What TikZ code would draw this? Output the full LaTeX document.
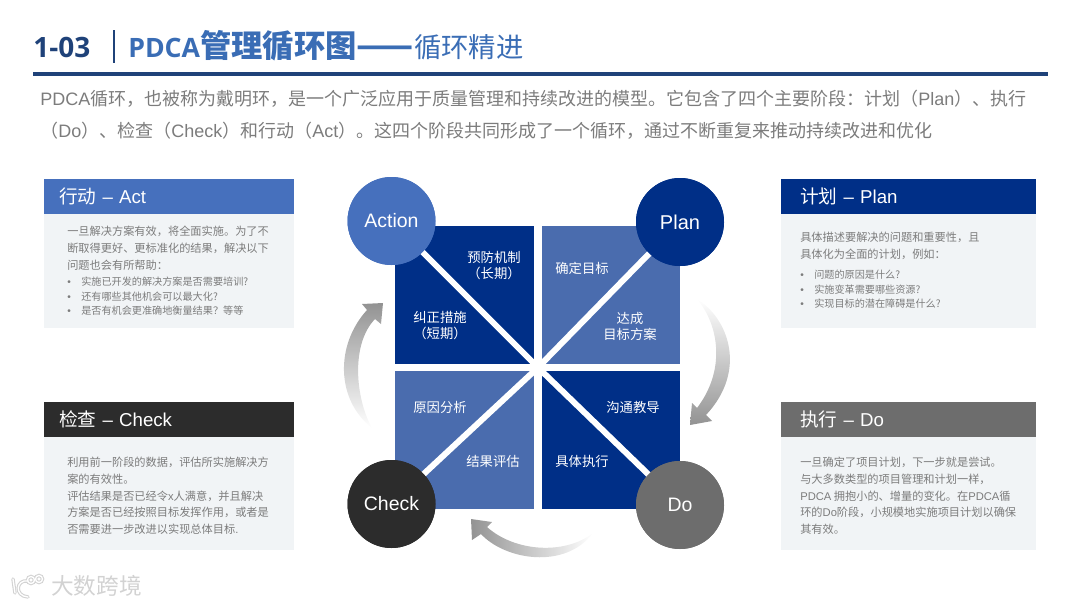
\documentclass[tikz,border=0pt]{standalone}
\usepackage{fontspec}
\usepackage{xcolor}
\setmainfont{Noto Sans CJK SC}
\newfontfamily\latinfont{Liberation Sans}
\newfontfamily\numberfont{Open Sans}
\usetikzlibrary{
    positioning,
    calc
}
\definecolor{BlueDeep}{HTML}{002F87}
\definecolor{BlueMid}{HTML}{4A6CAE}
\definecolor{BlueAct}{HTML}{4670BD}
\definecolor{BlueRule}{HTML}{1F4279}
\definecolor{BlueTitle}{HTML}{3A6DB5}
\definecolor{InkCheck}{HTML}{2C2C2C}
\definecolor{GreyDo}{HTML}{6D6D6D}
\definecolor{GreyText}{HTML}{7C7C7C}
\definecolor{PanelBack}{HTML}{F1F4F6}
\definecolor{MarkGrey}{HTML}{D2D2D2}
\newcommand{\lat}[1]{{\latinfont #1}}
\newcommand{\dotline}[1]{\makebox[10.5pt][l]{\lat{\textbullet}}#1}
\tikzset{
    headbar/.style={
        anchor=north west,
        minimum height=26.25pt,
        inner sep=0pt,
        outer sep=0pt,
        text=white,
        align=left,
        font=\fontsize{14}{16}\selectfont
    },
    panelbody/.style={
        anchor=north west,
        fill=PanelBack,
        minimum height=85.5pt,
        inner sep=0pt,
        outer sep=0pt
    },
    paratext/.style={
        anchor=north west,
        inner sep=0pt,
        text=GreyText,
        align=left,
        font=\fontsize{8.4}{12.5}\selectfont
    },
    dottext/.style={
        anchor=north west,
        inner sep=0pt,
        text=GreyText,
        align=left,
        font=\fontsize{7.6}{10.9}\selectfont
    },
    stagecircle/.style={
        circle,
        minimum size=66pt,
        inner sep=0pt,
        text=white,
        font=\latinfont\fontsize{14.6}{17}\selectfont
    },
    celltext/.style={
        text=white,
        align=center,
        inner sep=0pt,
        font=\fontsize{10}{12}\selectfont
    },
    spoke/.style={white,line width=4.5pt},
    logoback/.style={MarkGrey,line width=2.6pt,line cap=round},
    logofront/.style={white,line width=1pt,line cap=round}
}

\begin{document}
\begin{tikzpicture}[x=0.75pt,y=-0.75pt]
    \useasboundingbox (0,0) rectangle (1080,607);

    % title row
    \node[anchor=base west,inner sep=0pt,text=BlueRule,font=\numberfont\bfseries\fontsize{21}{24}\selectfont] (number) at (33,57) {1-03};
    \draw[BlueRule,line width=1.6pt] (114,30) -- (114,63);
    \node[anchor=base west,inner sep=0pt,text=BlueTitle] (title) at (128,57) {%
        {\numberfont\bfseries\fontsize{20}{24}\selectfont PDCA}%
        {\bfseries\fontsize{23.5}{24}\selectfont 管理循环图}%
        {\bfseries\fontsize{25}{24}\selectfont ——}%
        {\fontsize{20.5}{24}\selectfont 循环精进}};
    \draw[BlueRule,line width=2.3pt] (33,74) -- (1048,74);

    \node[
        anchor=north west,
        inner sep=0pt,
        text=GreyText,
        align=left,
        font=\fontsize{13.5}{24}\selectfont
    ] (intro) at (40,90) {%
        \lat{PDCA}循环，也被称为戴明环，是一个广泛应用于质量管理和持续改进的模型。它包含了四个主要阶段：计划（\lat{Plan}）、执行\\
        （\lat{Do}）、检查（\lat{Check}）和行动（\lat{Act}）。这四个阶段共同形成了一个循环，通过不断重复来推动持续改进和优化};

    % left panels
    \node[headbar,fill=BlueAct,text width=187.5pt] (acthead) at (44,179) {\hspace*{11.25pt}行动\lat{\ –\ Act}};
    \node[panelbody,minimum width=187.5pt,below=0pt of acthead.south west,anchor=north west] (actbody) {};
    \node[paratext] (acttext) at (67,226) {一旦解决方案有效，将全面实施。为了不\\断取得更好、更标准化的结果，解决以下\\问题也会有所帮助：};
    \node[dottext] (actdots) at (67,277) {\dotline{实施已开发的解决方案是否需要培训?}\\\dotline{还有哪些其他机会可以最大化?}\\\dotline{是否有机会更准确地衡量结果？等等}};

    \node[headbar,fill=InkCheck,text width=187.5pt] (checkhead) at (44,402) {\hspace*{11.25pt}检查\lat{\ –\ Check}};
    \node[panelbody,minimum width=187.5pt,minimum height=84.75pt,below=0pt of checkhead.south west,anchor=north west] (checkbody) {};
    \node[paratext] (checktext) at (67,457) {利用前一阶段的数据，评估所实施解决方\\案的有效性。\\评估结果是否已经令\lat{x}人满意，并且解决\\方案是否已经按照目标发挥作用，或者是\\否需要进一步改进以实现总体目标\lat{.}};

    % right panels
    \node[headbar,fill=BlueDeep,text width=191.25pt] (planhead) at (781,179) {\hspace*{14.25pt}计划\lat{\ –\ Plan}};
    \node[panelbody,minimum width=191.25pt,below=0pt of planhead.south west,anchor=north west] (planbody) {};
    \node[paratext] (plantext) at (800,232) {具体描述要解决的问题和重要性，且\\具体化为全面的计划，例如：};
    \node[dottext] (plandots) at (800,270) {\dotline{问题的原因是什么?}\\\dotline{实施变革需要哪些资源?}\\\dotline{实现目标的潜在障碍是什么?}};

    \node[headbar,fill=GreyDo,text width=191.25pt] (dohead) at (781,402) {\hspace*{14.25pt}\raisebox{1.5pt}{执行\lat{\ –\ Do}}};
    \node[panelbody,minimum width=191.25pt,minimum height=84.75pt,below=0pt of dohead.south west,anchor=north west] (dobody) {};
    \node[paratext] (dotext) at (800,457) {一旦确定了项目计划，下一步就是尝试。\\与大多数类型的项目管理和计划一样，\\\lat{PDCA} 拥抱小的、增量的变化。在\lat{PDCA}循\\环的\lat{Do}阶段，小规模地实施项目计划以确保\\其有效。};

    % centre square
    \fill[BlueDeep] (395,226) rectangle (534,364);
    \fill[BlueMid] (542,226) rectangle (680,364);
    \fill[BlueMid] (395,371) rectangle (534,509);
    \fill[BlueDeep] (542,371) rectangle (680,509);

    \coordinate (hub) at (538,367.5);
    \node[stagecircle,fill=BlueAct] (action) at (391.5,221) {};
    \node[stagecircle,fill=BlueDeep] (plan) at (680,222) {};
    \node[stagecircle,fill=InkCheck] (check) at (391.5,504) {};
    \node[stagecircle,fill=GreyDo] (do) at (680,505) {};
    \draw[spoke] (action.center) -- (hub);
    \draw[spoke] (plan.center) -- (hub);
    \draw[spoke] (check.center) -- (hub);
    \draw[spoke] (do.center) -- (hub);
    \node[stagecircle,fill=BlueAct] at (action) {Action};
    \node[stagecircle,fill=BlueDeep,font=\latinfont\fontsize{15}{17}\selectfont] at (plan) {Plan};
    \node[stagecircle,fill=InkCheck] at (check) {Check};
    \node[stagecircle,fill=GreyDo] at (do) {Do};

    \node[celltext] (prevent) at (494,266) {预防机制\\（长期）};
    \node[celltext] (correct) at (440,326) {纠正措施\\（短期）};
    \node[celltext] (goal) at (582,268) {确定目标};
    \node[celltext] (reach) at (630,326) {达成\\目标方案};
    \node[celltext] (cause) at (440,407) {原因分析};
    \node[celltext] (review) at (493,461) {结果评估};
    \node[celltext] (talk) at (633,407) {沟通教导};
    \node[celltext] (carry) at (582,461) {具体执行};

    % curved arrows
    \shade[top color=white,bottom color=gray!85] (697,299) .. controls (728,318) and (748,370) .. (706,415)
        -- (712,421) -- (690,425) -- (692,403) -- (697,408)
        .. controls (726,370) and (719,325) .. (697,299) -- cycle;
    \shade[bottom color=white,top color=gray!85] (372,428) .. controls (336,400) and (335,345) .. (367,310)
        -- (362,304) -- (383,303) -- (381,324) -- (375,319)
        .. controls (350,345) and (356,400) .. (372,428) -- cycle;
    \shade[right color=white,left color=gray!85] (593,533) .. controls (565,570) and (505,560) .. (481,534)
        -- (472,540) -- (471,519) -- (492,522) -- (487,527)
        .. controls (515,552) and (565,555) .. (593,533) -- cycle;

    % watermark
    \foreach \pen in {logoback,logofront}{
        \draw[\pen] (13,579) -- (15,593);
        \draw[\pen] (28,581) .. controls (16,579) and (14,596) .. (28,597);
        \draw[\pen] (31,580) circle (3.5);
        \draw[\pen] (39,579) circle (3.5);
    }
    \node[anchor=base west,inner sep=0pt,text=MarkGrey,font=\fontsize{17}{18}\selectfont] (mark) at (51,594) {大数跨境};
\end{tikzpicture}
\end{document}
